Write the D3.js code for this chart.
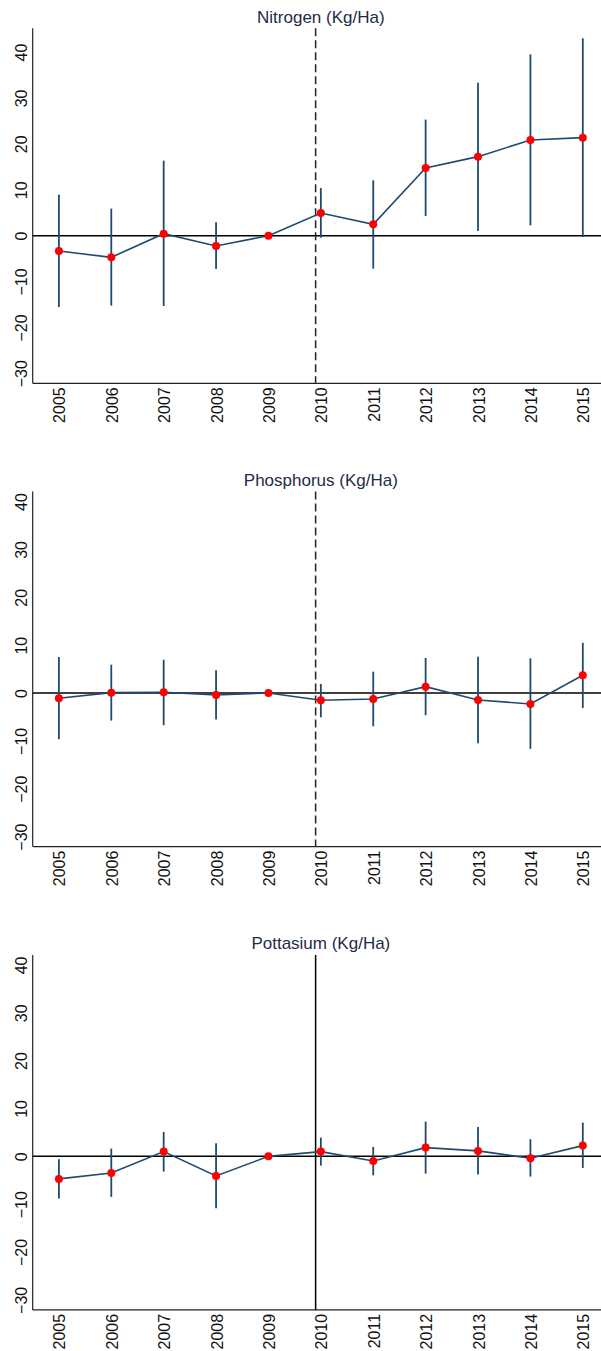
<!DOCTYPE html>
<html>
<head>
<meta charset="utf-8">
<script src="https://cdn.jsdelivr.net/npm/d3@7"></script>
<style>
  html, body { margin: 0; padding: 0; background: #fff; }
  svg { display: block; }
</style>
</head>
<body>
<svg id="chart" width="601" height="1351"></svg>
<script>
// Event-study style estimates by year, with 95% confidence intervals
const years = [2005, 2006, 2007, 2008, 2009, 2010, 2011, 2012, 2013, 2014, 2015];
const yTicks = [-30, -20, -10, 0, 10, 20, 30, 40];

const nitrogenEst = [-3.35, -4.73, 0.43, -2.26, 0, 4.93, 2.46, 14.73, 17.21, 20.83, 21.35];
const nitrogenLo  = [-15.56, -15.25, -15.33, -7.27, 0, -0.44, -7.19, 4.27, 1.0, 2.24, -0.3];
const nitrogenHi  = [8.93, 5.88, 16.34, 2.9, 0, 10.37, 12.05, 25.28, 33.34, 39.5, 43.0];

const phosphorusEst = [-1.1, 0.08, 0.15, -0.4, 0, -1.52, -1.24, 1.33, -1.45, -2.28, 3.7];
const phosphorusLo  = [-9.65, -5.76, -6.73, -5.55, 0, -5.07, -6.94, -4.64, -10.5, -11.67, -3.12];
const phosphorusHi  = [7.53, 5.92, 6.97, 4.74, 0, 1.89, 4.46, 7.32, 7.6, 7.25, 10.5];

const potassiumEst = [-4.72, -3.47, 0.99, -4.1, 0, 0.99, -0.96, 1.82, 1.13, -0.4, 2.24];
const potassiumLo  = [-8.83, -8.48, -3.19, -10.85, 0, -1.94, -3.96, -3.61, -3.82, -4.24, -2.42];
const potassiumHi  = [-0.61, 1.62, 5.1, 2.73, 0, 3.9, 1.96, 7.25, 6.14, 3.57, 7.04];

const titles = ["Nitrogen (Kg/Ha)", "Phosphorus (Kg/Ha)", "Pottasium (Kg/Ha)"];
const refLine = 2009.9;       // policy reference year marker
const refStyles = ["dashed", "dashed", "solid"];

const panels = [
  { title: titles[0], est: nitrogenEst, lo: nitrogenLo, hi: nitrogenHi, ref: refStyles[0] },
  { title: titles[1], est: phosphorusEst, lo: phosphorusLo, hi: phosphorusHi, ref: refStyles[1] },
  { title: titles[2], est: potassiumEst, lo: potassiumLo, hi: potassiumHi, ref: refStyles[2] }
];

const FONT = "Arimo, 'Liberation Sans', Arial, Helvetica, sans-serif";
const svg = d3.select("#chart");

const frameLeft = 32.7, frameRight = 609;
const frameTop0 = 28.3, frameH = 355, stride = 463.3, pad = 10;
const lineColor = "#1f4a70";

const x = d3.scaleLinear().domain([2004.5, 2015.5]).range([frameLeft, frameRight]);

panels.forEach((p, i) => {
  const top = frameTop0 + i * stride;
  const bottom = top + frameH;
  const yLo = Math.min(d3.min(yTicks), d3.min(p.lo));
  const yHi = Math.max(d3.max(yTicks), d3.max(p.hi));
  const y = d3.scaleLinear().domain([yLo, yHi]).range([bottom - pad, top + pad]);

  const g = svg.append("g");

  // title
  g.append("text")
    .attr("x", (frameLeft + frameRight) / 2)
    .attr("y", top - 5.8)
    .attr("text-anchor", "middle")
    .attr("font-family", FONT)
    .attr("font-size", 17)
    .attr("fill", "#1f2c47")
    .text(p.title);

  // y axis (labels only, rotated)
  const yAxis = d3.axisLeft(y).tickValues(yTicks).tickSize(0).tickPadding(0).tickFormat(d3.format("d"));
  const ya = g.append("g").attr("transform", `translate(${frameLeft},0)`).call(yAxis);
  ya.select(".domain").remove();
  ya.selectAll("text")
    .attr("font-family", FONT)
    .attr("font-size", 16)
    .attr("fill", "#111")
    .attr("text-anchor", "middle")
    .attr("x", 0).attr("dy", 0)
    .attr("transform", "translate(-6,0) rotate(-90)");

  // x axis (labels only, rotated)
  const xAxis = d3.axisBottom(x).tickValues(years).tickSize(0).tickPadding(0).tickFormat(d3.format("d"));
  const xa = g.append("g").attr("transform", `translate(0,${bottom})`).call(xAxis);
  xa.select(".domain").remove();
  xa.selectAll("text")
    .attr("font-family", FONT)
    .attr("font-size", 16)
    .attr("fill", "#111")
    .attr("text-anchor", "end")
    .attr("x", 0).attr("y", 0).attr("dy", 0)
    .attr("transform", "translate(6,4) rotate(-90)");

  // frame: left and bottom axis lines
  g.append("line")
    .attr("x1", frameLeft).attr("x2", frameLeft)
    .attr("y1", top).attr("y2", bottom)
    .attr("stroke", "#222").attr("stroke-width", 1.2);
  g.append("line")
    .attr("x1", frameLeft).attr("x2", frameRight)
    .attr("y1", bottom).attr("y2", bottom)
    .attr("stroke", "#222").attr("stroke-width", 1.2);

  // zero reference line
  g.append("line")
    .attr("x1", frameLeft).attr("x2", frameRight)
    .attr("y1", y(0)).attr("y2", y(0))
    .attr("stroke", "#000").attr("stroke-width", 1.5);

  // vertical reference line
  g.append("line")
    .attr("x1", x(refLine)).attr("x2", x(refLine))
    .attr("y1", top).attr("y2", bottom)
    .attr("stroke", p.ref === "dashed" ? "#222" : "#000")
    .attr("stroke-width", 1.5)
    .attr("stroke-dasharray", p.ref === "dashed" ? "8,4" : null);

  const rows = years.map((yr, k) => ({ yr, est: p.est[k], lo: p.lo[k], hi: p.hi[k] }));

  // confidence intervals
  g.selectAll(".ci")
    .data(rows.filter(d => d.hi !== d.lo))
    .join("line")
    .attr("x1", d => x(d.yr)).attr("x2", d => x(d.yr))
    .attr("y1", d => y(d.lo)).attr("y2", d => y(d.hi))
    .attr("stroke", lineColor).attr("stroke-width", 1.8);

  // connecting line
  g.append("path")
    .datum(rows)
    .attr("d", d3.line().x(d => x(d.yr)).y(d => y(d.est)))
    .attr("fill", "none")
    .attr("stroke", lineColor)
    .attr("stroke-width", 1.6);

  // point estimates
  g.selectAll(".pt")
    .data(rows)
    .join("circle")
    .attr("cx", d => x(d.yr)).attr("cy", d => y(d.est))
    .attr("r", 4)
    .attr("fill", "#ff0000");
});
</script>
</body>
</html>
